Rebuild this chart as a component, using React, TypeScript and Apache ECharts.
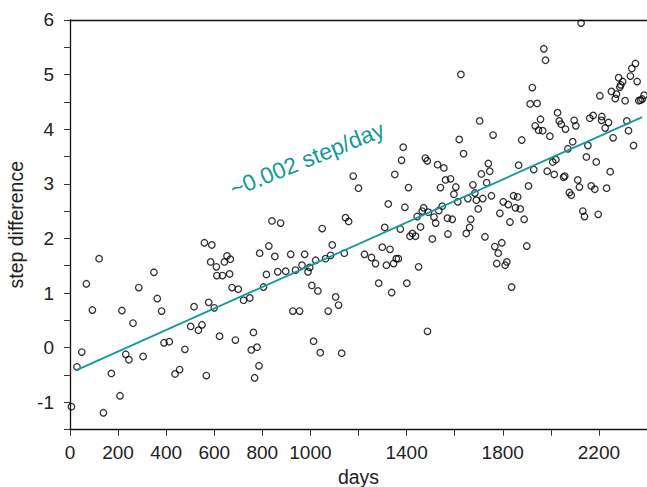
import React, { useEffect, useRef } from "react";
import * as echarts from "echarts";

// observation day for each point
const days: number[] = [
  6, 29, 49, 68, 93, 121, 139, 172, 208, 216, 232, 245, 262, 286, 304, 349, 363, 381, 391, 413,
  437, 456, 478, 502, 516, 534, 549, 559, 567, 577, 590, 585, 600, 609, 611, 622, 634, 642, 653, 664,
  667, 674, 688, 700, 722, 748, 754, 763, 768, 778, 786, 789,
  805, 817, 827, 840, 852, 864, 876, 897, 918, 927, 938, 955, 965, 976, 990, 997, 1006, 1013, 1022, 1031,
  1041, 1049, 1063, 1074, 1084, 1091, 1105, 1117, 1130, 1141, 1146, 1159, 1200, 1225, 1254, 1271, 1284, 1299, 1309, 1316,
  1324, 1331, 1338, 1346, 1357, 1366, 1374, 1393, 1401, 1408, 1414, 1424, 1437, 1444, 1450, 1458, 1465, 1471, 1487, 1491,
  1507, 1514, 1521, 1534, 1541, 1548, 1562, 1570, 1572,
  1583, 1590, 1597, 1605, 1613, 1648, 1655, 1662, 1667, 1676, 1684, 1690, 1698, 1717, 1726, 1733, 1753, 1767, 1781, 1775,
  1788, 1796, 1802, 1810, 1817, 1823, 1830, 1837, 1845, 1853, 1862, 1873, 1889, 1900, 1907, 2077, 2085, 2119, 2133, 2140,
  2168, 2183, 2197, 2232,
  2126, 1971, 1978, 1626, 1923, 1914, 1943, 2352, 2337, 2331, 2359, 2282, 2299, 2291, 2287, 2252, 2273, 2268, 2204, 2309,
  2366, 2373, 2380, 2388, 1704, 1619, 1637, 1760, 1879, 1957, 1935, 1949, 1966, 1996, 2028, 2035, 2043, 2061, 2097, 2104,
  2091, 2071, 2162, 2176, 2212, 2211, 2240, 2226, 2259, 2316, 2323, 2344, 2154, 2148, 2189, 2247, 1866, 1929, 2008, 2021,
  1985, 2014, 2053, 2058, 2112, 1740, 1746, 1711, 1555, 1529,
  1386, 1379, 1351, 1478, 1486, 1178,
];

// step difference for each point
const stepDiff: number[] = [
  -1.08, -0.35, -0.08, 1.17, 0.69, 1.63, -1.19, -0.47, -0.88, 0.68, -0.12, -0.22, 0.45, 1.1, -0.16, 1.38, 0.9, 0.67, 0.09, 0.11,
  -0.48, -0.4, -0.03, 0.39, 0.75, 0.32, 0.42, 1.92, -0.51, 0.83, 1.88, 1.57, 0.73, 1.48, 1.32, 0.21, 1.32, 1.57, 1.68, 1.35,
  1.62, 1.1, 0.14, 1.07, 0.87, 0.91, -0.04, 0.28, -0.55, 0.01, -0.33, 1.73,
  1.11, 1.34, 1.86, 2.32, 1.67, 1.39, 2.28, 1.4, 1.71, 0.67, 1.42, 0.67, 1.51, 1.71, 1.39, 1.47, 1.14, 0.12, 1.6, 1.04,
  -0.09, 2.18, 1.63, 0.67, 1.69, 1.88, 0.93, 0.78, -0.1, 1.73, 2.38, 2.31, 2.92, 1.71, 1.65, 1.54, 1.18, 1.84, 2.2, 1.51,
  2.63, 1.8, 1.01, 1.54, 1.63, 1.63, 2.17, 2.57, 1.18, 2.93, 2.04, 2.09, 2.04, 2.4, 1.48, 2.21, 2.5, 2.56, 0.3, 2.48,
  1.99, 2.39, 2.28, 2.51, 2.93, 2.59, 3.07, 2.37, 2.08,
  3.09, 2.35, 2.81, 2.94, 2.67, 2.09, 2.73, 2.2, 2.35, 2.98, 2.83, 2.7, 2.54, 2.73, 2.03, 3.02, 2.78, 1.85, 1.73, 1.54,
  2.46, 1.92, 2.67, 1.51, 1.57, 2.62, 2.3, 1.11, 2.78, 2.56, 2.76, 2.54, 2.35, 1.86, 2.96, 2.84, 2.79, 2.94, 2.5, 2.4,
  2.96, 2.9, 2.44, 2.92,
  5.94, 5.47, 5.26, 5.0, 4.76, 4.46, 4.47, 5.2, 5.11, 4.97, 4.87, 4.94, 4.87, 4.81, 4.77, 4.69, 4.64, 4.56, 4.61, 4.52,
  4.52, 4.53, 4.55, 4.62, 4.15, 3.81, 3.55, 3.89, 3.8, 4.18, 4.06, 3.98, 3.97, 3.87, 4.3, 4.15, 4.09, 4.0, 4.16, 4.06,
  3.77, 3.64, 4.2, 4.25, 4.23, 4.16, 4.12, 4.02, 3.84, 4.15, 3.97, 3.7, 3.7, 3.49, 3.4, 3.22, 3.34, 3.26, 3.4, 3.44,
  3.23, 3.17, 3.12, 3.14, 3.07, 3.37, 3.23, 3.18, 3.29, 3.35,
  3.67, 3.43, 3.17, 3.47, 3.42, 3.14,
];

// fitted trend line end points
const fitDays: number[] = [27, 2380];
const fitValues: number[] = [-0.41, 4.22];

const xTickValues: number[] = [0, 200, 400, 600, 800, 1000, 1200, 1400, 1600, 1800, 2000, 2200];
const xLabelValues: number[] = [0, 200, 400, 600, 800, 1000, 1400, 1800, 2200];

const annotation = "~0.002 step/day";
const TEAL = "#139999";
const FONT = "'Liberation Sans', Arial, sans-serif";

export default function App() {
  const ref = useRef<HTMLDivElement>(null);

  useEffect(() => {
    if (!ref.current) return;
    document.body.style.margin = "0";
    const chart = echarts.init(ref.current, null, { renderer: "svg" });
    const points = days.map((d, i) => [d, stepDiff[i]]);
    const fit = fitDays.map((d, i) => [d, fitValues[i]]);

    chart.setOption({
      animation: false,
      backgroundColor: "#ffffff",
      grid: {
        left: 70,
        right: 0,
        top: 19.8,
        bottom: 57.3,
        containLabel: false,
        outerBoundsMode: "none",
      },
      xAxis: [
        {
          type: "value",
          min: 0,
          max: 2400,
          name: "days",
          nameLocation: "middle",
          nameGap: 36,
          nameTextStyle: { color: "#222", fontSize: 19.5, lineHeight: 20, fontFamily: FONT },
          axisLine: { show: true, onZero: false, lineStyle: { color: "#111", width: 1.3 } },
          axisTick: {
            show: true,
            length: 6,
            customValues: xTickValues,
            lineStyle: { color: "#333", width: 1 },
          },
          axisLabel: {
            customValues: xLabelValues,
            margin: 13,
            color: "#222",
            fontSize: 19,
            fontFamily: FONT,
            formatter: (v: number) => String(v),
          },
          splitLine: { show: false },
        },
        {
          type: "value",
          position: "top",
          min: 0,
          max: 2400,
          axisLine: { show: true, onZero: false, lineStyle: { color: "#111", width: 1.3 } },
          axisTick: { show: false },
          axisLabel: { show: false },
          splitLine: { show: false },
        },
      ],
      yAxis: {
        type: "value",
        min: -1.5,
        max: 6,
        interval: 0.5,
        name: "step difference",
        nameLocation: "middle",
        nameGap: 42,
        nameTextStyle: { color: "#222", fontSize: 19.5, fontFamily: FONT },
        axisLine: { show: true, onZero: false, lineStyle: { color: "#111", width: 1.3 } },
        axisTick: { show: true, length: 6, lineStyle: { color: "#333", width: 1 } },
        axisLabel: {
          margin: 16,
          color: "#222",
          fontSize: 19,
          fontFamily: FONT,
          formatter: (v: number) => (Number.isInteger(v) ? String(v) : ""),
        },
        splitLine: { show: false },
      },
      series: [
        {
          type: "scatter",
          data: points,
          symbol: "circle",
          symbolSize: 6.5,
          itemStyle: { color: "rgba(0,0,0,0)", borderColor: "#000", borderWidth: 1.3 },
          emphasis: { disabled: true },
          z: 3,
        },
        {
          type: "line",
          data: fit,
          symbol: "none",
          lineStyle: { color: TEAL, width: 1.8 },
          z: 4,
        },
      ],
      graphic: [
        {
          type: "text",
          x: 307,
          y: 159,
          rotation: (22 * Math.PI) / 180,
          style: {
            text: annotation,
            fill: TEAL,
            fontSize: 23,
            fontFamily: FONT,
            textAlign: "center",
            textVerticalAlign: "middle",
          },
          z: 10,
        },
      ],
    });

    return () => chart.dispose();
  }, []);

  return <div ref={ref} style={{ width: 647, height: 487 }} />;
}
